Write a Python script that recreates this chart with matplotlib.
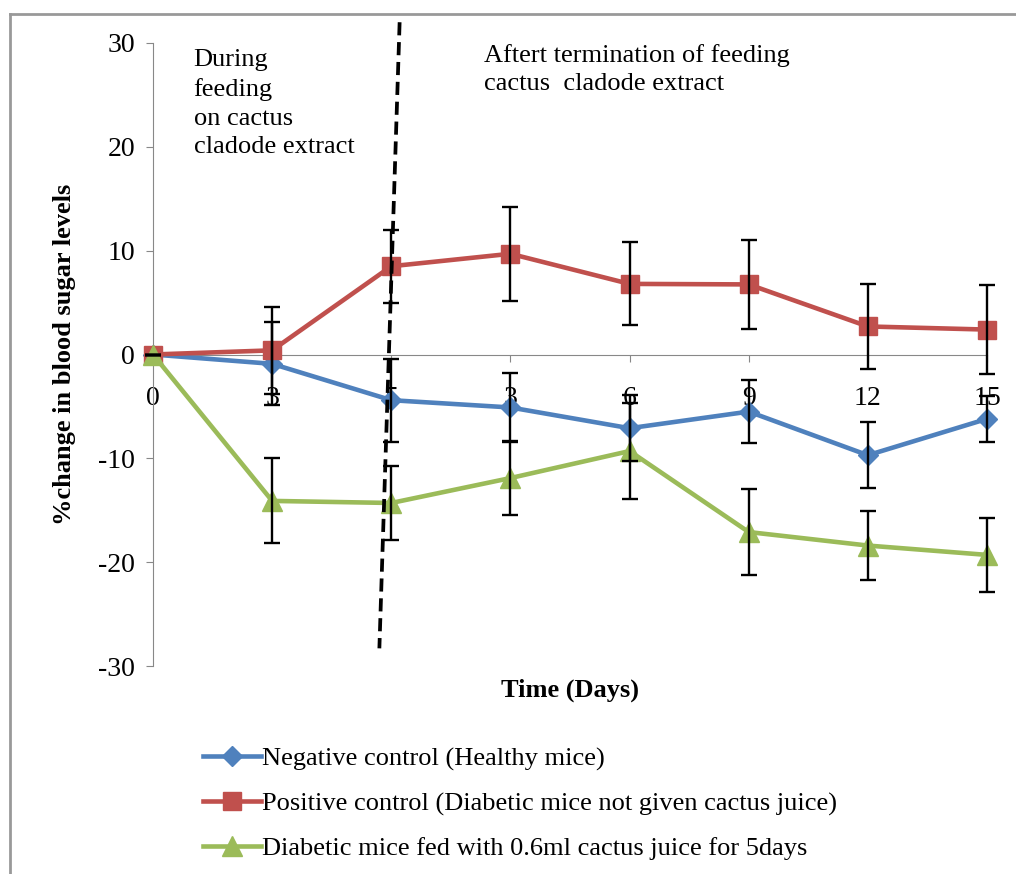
import matplotlib.pyplot as plt
import numpy as np

plt.rcParams['font.family'] = ['Liberation Serif', 'DejaVu Serif']
plt.rcParams['axes.unicode_minus'] = False

days = ['0', '3', '5', '3', '6', '9', '12', '15']

neg_mean = [0, -0.9, -4.4, -5.1, -7.1, -5.5, -9.7, -6.2]
neg_err = [0, 4.0, 4.0, 3.3, 3.2, 3.0, 3.2, 2.2]

pos_mean = [0, 0.4, 8.5, 9.7, 6.8, 6.75, 2.7, 2.4]
pos_err = [0, 4.2, 3.5, 4.5, 4.0, 4.3, 4.1, 4.3]

cac_mean = [0, -14.1, -14.3, -11.9, -9.3, -17.1, -18.4, -19.3]
cac_err = [0, 4.1, 3.6, 3.6, 4.6, 4.1, 3.3, 3.6]

labels = ['Negative control (Healthy mice)',
          'Positive control (Diabetic mice not given cactus juice)',
          'Diabetic mice fed with 0.6ml cactus juice for 5days']

fig = plt.figure(figsize=(10.16, 8.74), dpi=100)
ax = fig.add_axes([153/1016, 1 - 666/874, (987 - 153)/1016, (666 - 43)/874])

x = np.arange(len(days))
series = [(neg_mean, neg_err, '#4F81BD', 'D', 10),
          (pos_mean, pos_err, '#C0504D', 's', 13),
          (cac_mean, cac_err, '#9BBB59', '^', 14)]
handles = []
for (m, e, c, mk, ms), lab in zip(series, labels):
    h, = ax.plot(x, m, color=c, lw=3.3, marker=mk, ms=ms, label=lab,
                 clip_on=False, zorder=3)
    handles.append(h)
    ax.errorbar(x, m, yerr=e, fmt='none', ecolor='black', elinewidth=1.7,
                capsize=6, capthick=1.7, clip_on=False, zorder=4)

ax.set_xlim(0, len(days) - 1)
ax.set_ylim(-30, 30)
ax.set_yticks(range(-30, 31, 10))
ax.set_xticks(x)
ax.set_xticklabels(days)

for s in ['top', 'right']:
    ax.spines[s].set_visible(False)
ax.spines['left'].set_color('#888888')
ax.spines['bottom'].set_color('#888888')
ax.spines['bottom'].set_position(('data', 0))
ax.tick_params(axis='y', colors='#888888', labelcolor='black', labelsize=20,
               length=5, direction='out', pad=8)
ax.tick_params(axis='x', colors='#888888', labelcolor='black', labelsize=20,
               length=5, direction='out', pad=18)
for t in ax.get_xticklabels():
    t.set_zorder(2)

ax.set_ylabel('%change in blood sugar levels', fontsize=19, fontweight='bold',
              labelpad=16)
ax.text(3.5, -31.2, 'Time (Days)', ha='center', va='top', fontsize=19,
        fontweight='bold')

# divider between the two phases
ax.plot([2.07, 1.90], [32.0, -28.3], color='black', lw=2.7, ls='--',
        dashes=(3.5, 1.8), clip_on=False, zorder=5)

ax.text(0.34, 29.4, 'During\nfeeding\non cactus\ncladode extract',
        ha='left', va='top', fontsize=19, linespacing=1.38)
ax.text(2.78, 29.95, 'Aftert termination of feeding\ncactus  cladode extract',
        ha='left', va='top', fontsize=19, linespacing=1.38)

fig.legend(handles=handles, loc='upper left',
           bbox_to_anchor=(203/1016, 1 - 747/874), frameon=False,
           fontsize=19, handlelength=2.2, handletextpad=0.05,
           labelspacing=0.8, borderaxespad=0, borderpad=0)

fig.add_artist(plt.Line2D([10/1016, 1.0], [1 - 14/874, 1 - 14/874],
                          transform=fig.transFigure, color='#999999', lw=2))
fig.add_artist(plt.Line2D([10/1016, 10/1016], [0, 1 - 14/874],
                          transform=fig.transFigure, color='#999999', lw=2))

fig.savefig('out.png', dpi=100)
